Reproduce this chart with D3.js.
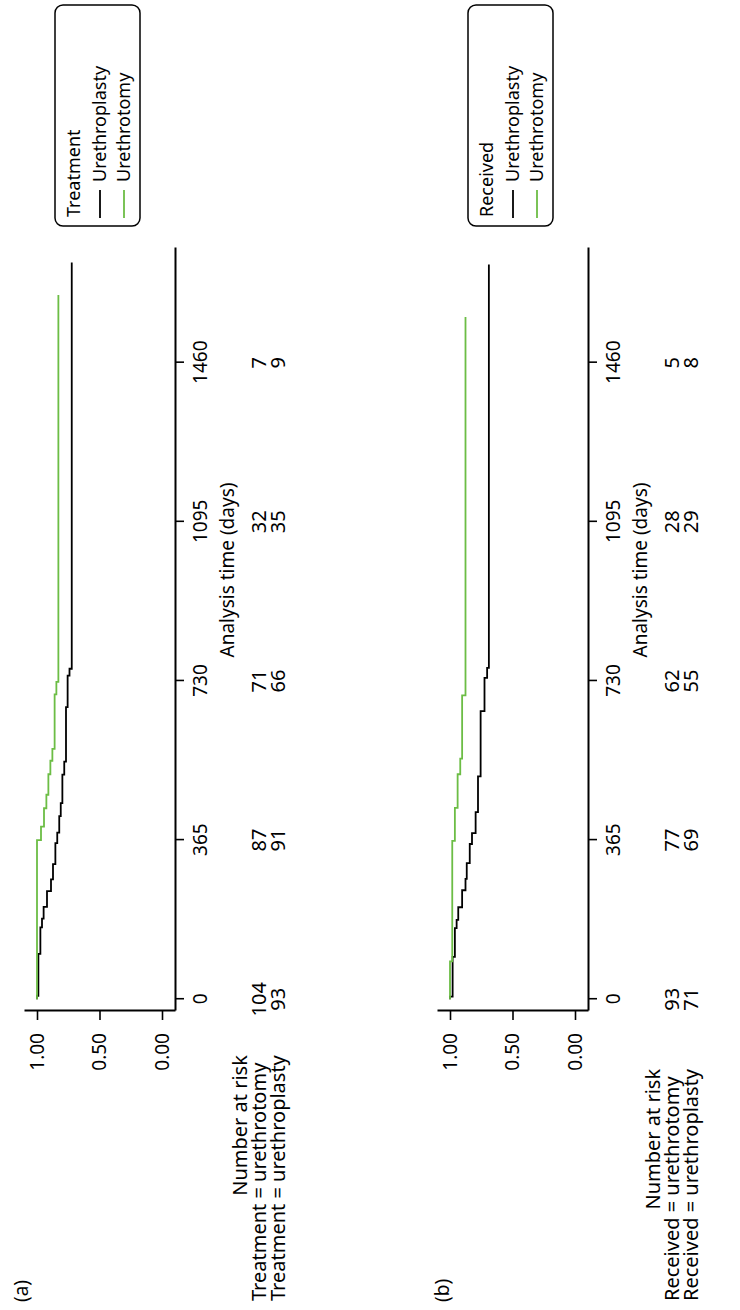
<!DOCTYPE html>
<html>
<head>
<meta charset="utf-8">
<script src="https://cdn.jsdelivr.net/npm/d3@7"></script>
<style>
  body { margin: 0; background: #fff; }
  text { font-family: 'Noto Sans', 'DejaVu Sans', sans-serif; fill: #000; }
</style>
</head>
<body>
<div id="chart"></div>
<script>
// shared axis ticks
const timeTicks = [0, 365, 730, 1095, 1460];
const survTicks = [0, 0.5, 1];

// (a) by treatment allocated: step times (days) and survival after each step
const aPlastyTimes = [0, 8, 104, 165, 185, 212, 248, 275, 310, 358, 382, 420, 450, 515, 545, 670, 742, 758, 1690];
const aPlastySurv = [1, 0.989, 0.973, 0.960, 0.947, 0.920, 0.888, 0.872, 0.853, 0.838, 0.822, 0.810, 0.797, 0.782, 0.768, 0.755, 0.740, 0.722, 0.722];
const aTomyTimes = [0, 365, 396, 438, 469, 516, 547, 574, 699, 728, 1615];
const aTomySurv = [1, 0.968, 0.944, 0.925, 0.909, 0.893, 0.877, 0.859, 0.845, 0.829, 0.829];
const aTomyRisk = [104, 87, 71, 32, 7];
const aPlastyRisk = [93, 91, 66, 35, 9];

// (b) by treatment received
const bPlastyTimes = [0, 6, 97, 163, 182, 211, 250, 276, 312, 356, 381, 429, 511, 661, 737, 760, 1685];
const bPlastySurv = [1, 0.979, 0.961, 0.947, 0.934, 0.903, 0.876, 0.866, 0.842, 0.824, 0.795, 0.776, 0.755, 0.724, 0.703, 0.689, 0.689];
const bTomyTimes = [0, 87, 363, 439, 516, 552, 697, 1565];
const bTomySurv = [1, 0.982, 0.961, 0.939, 0.918, 0.903, 0.876, 0.876];
const bTomyRisk = [93, 77, 62, 28, 5];
const bPlastyRisk = [71, 69, 55, 29, 8];

const GREEN = '#6cbd45';
const FS = 19;     // axis text
const FT = 20;     // risk table text
const FL = 18;     // legend text

const svg = d3.select('#chart').append('svg')
  .attr('width', 740)
  .attr('height', 1310);

// whole figure is drawn landscape, then turned a quarter to the left
const root = svg.append('g').attr('transform', 'translate(0,1310) rotate(-90)');

const toPoints = (times, surv) => times.map((t, i) => ({ t, s: surv[i] }));

drawPanel({
  dv: 0,
  tag: '(a)',
  legendTitle: 'Treatment',
  rowLabels: ['Treatment = urethrotomy', 'Treatment = urethroplasty'],
  risk: [aTomyRisk, aPlastyRisk],
  plasty: toPoints(aPlastyTimes, aPlastySurv),
  tomy: toPoints(aTomyTimes, aTomySurv)
});

drawPanel({
  dv: 413,
  tag: '(b)',
  legendTitle: 'Received',
  rowLabels: ['Received = urethrotomy', 'Received = urethroplasty'],
  risk: [bTomyRisk, bPlastyRisk],
  plasty: toPoints(bPlastyTimes, bPlastySurv),
  tomy: toPoints(bTomyTimes, bTomySurv)
});

function drawPanel(p) {
  const g = root.append('g');
  const dv = p.dv;

  const x = d3.scaleLinear().domain([-27, 1723]).range([299, 1062]);
  const y = d3.scaleLinear().domain([-0.104, 1.104]).range([175 + dv, 24 + dv]);

  // time axis
  const xAxis = g.append('g')
    .attr('transform', `translate(0,${175 + dv})`)
    .call(d3.axisBottom(x).tickValues(timeTicks).tickFormat(d3.format('d'))
      .tickSize(9).tickPadding(10).tickSizeOuter(0));

  // survival axis
  const yAxis = g.append('g')
    .attr('transform', 'translate(299,0)')
    .call(d3.axisLeft(y).tickValues(survTicks).tickFormat(d3.format('.2f'))
      .tickSize(9).tickPadding(13).tickSizeOuter(0));

  [xAxis, yAxis].forEach(a => {
    a.attr('font-size', null).attr('font-family', null);
    a.selectAll('path.domain').attr('stroke', '#000').attr('stroke-width', 2);
    a.selectAll('.tick line').attr('stroke', '#000').attr('stroke-width', 1.6);
    a.selectAll('.tick text').style('font-size', FS + 'px');
  });

  g.append('text')
    .attr('x', 740)
    .attr('y', 234 + dv)
    .attr('text-anchor', 'middle')
    .style('font-size', FS + 'px')
    .text('Analysis time (days)');

  // survival curves
  const line = d3.line()
    .x(d => x(d.t))
    .y(d => y(d.s))
    .curve(d3.curveStepAfter);

  g.append('path')
    .attr('d', line(p.plasty))
    .attr('fill', 'none')
    .attr('stroke', '#000')
    .attr('stroke-width', 1.8);

  g.append('path')
    .attr('d', line(p.tomy))
    .attr('fill', 'none')
    .attr('stroke', GREEN)
    .attr('stroke-width', 1.8);

  // number at risk table
  const rowY = [266 + dv, 285 + dv];
  const labelX = 9;
  let widest = 0;
  p.rowLabels.forEach((lab, i) => {
    const t = g.append('text')
      .attr('x', labelX)
      .attr('y', rowY[i])
      .style('font-size', FT + 'px')
      .text(lab);
    widest = Math.max(widest, t.node().getComputedTextLength());
    g.selectAll(null)
      .data(timeTicks)
      .join('text')
      .attr('x', d => x(d))
      .attr('y', rowY[i])
      .attr('text-anchor', 'middle')
      .style('font-size', FT + 'px')
      .text((d, j) => p.risk[i][j]);
  });

  g.append('text')
    .attr('x', labelX + widest)
    .attr('y', 247 + dv)
    .attr('text-anchor', 'end')
    .style('font-size', FT + 'px')
    .text('Number at risk');

  // panel tag
  g.append('text')
    .attr('x', 8)
    .attr('y', 28 + (dv ? 421 : 0))
    .style('font-size', FS + 'px')
    .text(p.tag);

  // legend to the right of the plot
  const lg = g.append('g');
  lg.append('rect')
    .attr('x', 1084).attr('y', 55 + dv)
    .attr('width', 221).attr('height', 85)
    .attr('rx', 8)
    .attr('fill', '#fff')
    .attr('stroke', '#000')
    .attr('stroke-width', 1.5);

  lg.append('text')
    .attr('x', 1093).attr('y', 80 + dv)
    .style('font-size', FL + 'px')
    .text(p.legendTitle);

  const keys = [
    { label: 'Urethroplasty', color: '#000' },
    { label: 'Urethrotomy', color: GREEN }
  ];
  keys.forEach((k, i) => {
    const cy = 100 + dv + i * 24;
    lg.append('line')
      .attr('x1', 1092).attr('x2', 1120)
      .attr('y1', cy).attr('y2', cy)
      .attr('stroke', k.color)
      .attr('stroke-width', 1.8);
    lg.append('text')
      .attr('x', 1128).attr('y', cy + 6)
      .style('font-size', FL + 'px')
      .text(k.label);
  });
}
</script>
</body>
</html>
